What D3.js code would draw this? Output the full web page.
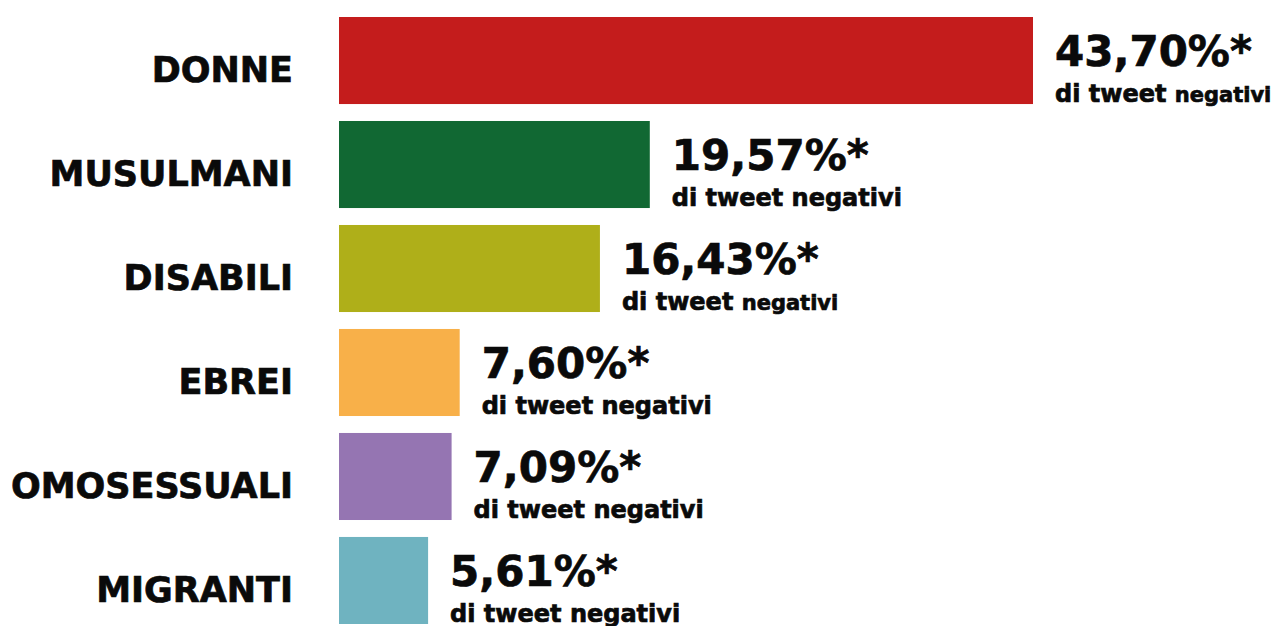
<!DOCTYPE html>
<html>
<head>
<meta charset="utf-8">
<script src="https://cdn.jsdelivr.net/npm/d3@7"></script>
<style>
  body { margin: 0; background: #fff; }
  text { font-family: "DejaVu Sans", sans-serif; font-weight: bold; fill: #0a0a0a; stroke: #0a0a0a; stroke-width: 0.7px; }
</style>
</head>
<body>
<div id="chart"></div>
<script>
let categories = ["DONNE", "MUSULMANI", "DISABILI", "EBREI", "OMOSESSUALI", "MIGRANTI"];
let values = [43.70, 19.57, 16.43, 7.60, 7.09, 5.61];
let valueLabels = ["43,70%*", "19,57%*", "16,43%*", "7,60%*", "7,09%*", "5,61%*"];
let subLabel = "di tweet";
let subLabelEnd = "negativi";
let colors = ["#c41c1c", "#116833", "#afaf19", "#f8b049", "#9575b2", "#6fb3c0"];

let width = 1284,
    height = 626,
    left = 339;

let data = categories.map(function(c, i) {
    return {cat: c, v: values[i], label: valueLabels[i], color: colors[i], i: i};
});

let x = d3.scaleLinear()
    .domain([0, 43.70])
    .range([left, 1033]);

let y = d3.scaleBand()
    .domain(categories)
    .range([17, 624])
    .paddingInner(0.163)
    .paddingOuter(0);

let svg = d3.select("#chart").append("svg")
    .attr("width", width)
    .attr("height", height);

let row = svg.selectAll(".row")
    .data(data)
    .enter().append("g")
    .attr("class", "row")
    .attr("transform", function(d) { return "translate(0," + y(d.cat) + ")"; });

row.append("rect")
    .attr("x", x(0))
    .attr("y", 0)
    .attr("width", function(d) { return x(d.v) - x(0); })
    .attr("height", y.bandwidth())
    .style("fill", function(d) { return d.color; });

// category names
row.append("text")
    .attr("x", 293)
    .attr("y", 65)
    .attr("text-anchor", "end")
    .style("font-size", "35px")
    .text(function(d) { return d.cat; });

// value
row.append("text")
    .attr("x", function(d) { return x(d.v) + 22; })
    .attr("y", 49)
    .style("font-size", "42px")
    .text(function(d) { return d.label; });

// "di tweet negativi" (smaller last word on first and third row, as in the original)
let sub = row.append("text")
    .attr("x", function(d) { return x(d.v) + 22; })
    .attr("y", 85)
    .style("font-size", "24px");

sub.append("tspan").text(subLabel + " ");
sub.append("tspan")
    .style("font-size", function(d) { return (d.i === 0 || d.i === 2) ? "21px" : "24px"; })
    .text(subLabelEnd);
</script>
</body>
</html>
